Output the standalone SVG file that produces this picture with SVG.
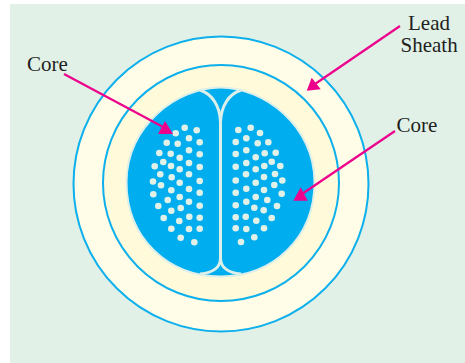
<svg xmlns="http://www.w3.org/2000/svg" width="465" height="363" viewBox="0 0 465 363">
<style>
.ring{stroke:#0db0ec;stroke-width:2}
.wall{fill:none;stroke:#dcefe9;stroke-width:3}
.dots circle{fill:#e1f1e7}
.lead{stroke:#ec008c;stroke-width:2.2;fill:none}
.head{fill:#ec008c}
text{font-family:"Liberation Serif","Times New Roman",serif;font-size:21px;fill:#231f20}
</style>
<rect width="465" height="363" fill="#fff"/>
<rect x="10" y="4" width="455" height="359" fill="#e1f1e7"/>
<g id="sheath-outer"><circle class="ring" cx="221" cy="184" r="147.500" fill="#fffde7"/></g>
<g id="sheath-inner"><circle class="ring" cx="221" cy="183" r="118" fill="#fffad9"/></g>
<g id="cable-core">
<path d="M220.500 87.500C264 87.500 314.500 126 314.500 182C314.500 238 273 276.500 220.500 276.500C168 276.500 126.500 238 126.500 182C126.500 126 177 87.500 220.500 87.500Z" fill="#00aeef" stroke="#dcefe9" stroke-width="2"/>
<path class="wall" d="M200 90C212 94 220 106 220.500 122V258C220.500 268 212 273 200 274"/>
<path class="wall" d="M241 90C229 94 221 106 220.500 122M220.500 258C220.500 268 229 273 241 274"/>
</g>
<g id="core-left-dots" class="dots">
<circle cx="175.700" cy="133.300" r="3.300"/><circle cx="184.700" cy="127.700" r="3.300"/><circle cx="196.700" cy="130.300" r="3.300"/><circle cx="166.700" cy="142.700" r="3.300"/><circle cx="177.700" cy="143.700" r="3.300"/><circle cx="189" cy="138.300" r="3.300"/><circle cx="199.700" cy="142.300" r="3.300"/><circle cx="159.300" cy="153" r="3.300"/><circle cx="170.700" cy="153.700" r="3.300"/><circle cx="189" cy="150.300" r="3.300"/><circle cx="199.700" cy="154.300" r="3.300"/><circle cx="179.700" cy="157.700" r="3.300"/><circle cx="163.300" cy="162" r="3.300"/><circle cx="171" cy="166" r="3.300"/><circle cx="189" cy="163" r="3.300"/><circle cx="154.700" cy="166.300" r="3.300"/><circle cx="179.700" cy="169.300" r="3.300"/><circle cx="199.700" cy="167" r="3.300"/><circle cx="160.300" cy="174.300" r="3.300"/><circle cx="171.700" cy="177.300" r="3.300"/><circle cx="189" cy="174.300" r="3.300"/><circle cx="153" cy="181.500" r="3.300"/><circle cx="179.700" cy="182.700" r="3.300"/><circle cx="199.700" cy="181" r="3.300"/><circle cx="161" cy="185.300" r="3.300"/><circle cx="171.300" cy="190.300" r="3.300"/><circle cx="189" cy="189" r="3.300"/><circle cx="199.700" cy="192.700" r="3.300"/><circle cx="153.300" cy="194.300" r="3.300"/><circle cx="179.700" cy="197" r="3.300"/><circle cx="167.700" cy="200" r="3.300"/><circle cx="189" cy="201.700" r="3.300"/><circle cx="199.700" cy="205.700" r="3.300"/><circle cx="158.300" cy="206" r="3.300"/><circle cx="180.700" cy="208" r="3.300"/><circle cx="171.300" cy="210.700" r="3.300"/><circle cx="163.700" cy="218" r="3.300"/><circle cx="189.300" cy="216.700" r="3.300"/><circle cx="199.700" cy="217.700" r="3.300"/><circle cx="179.300" cy="221" r="3.300"/><circle cx="171.300" cy="228.700" r="3.300"/><circle cx="189" cy="229" r="3.300"/><circle cx="199.700" cy="228.700" r="3.300"/><circle cx="180.700" cy="237.700" r="3.300"/><circle cx="194.300" cy="242.300" r="3.300"/>
</g>
<g id="core-right-dots" class="dots">
<circle cx="238.300" cy="130" r="3.300"/><circle cx="250.700" cy="127.700" r="3.300"/><circle cx="260" cy="133" r="3.300"/><circle cx="235.700" cy="142" r="3.300"/><circle cx="246.300" cy="138.300" r="3.300"/><circle cx="257.700" cy="143.300" r="3.300"/><circle cx="268.300" cy="142.300" r="3.300"/><circle cx="235.700" cy="154" r="3.300"/><circle cx="246.300" cy="150.300" r="3.300"/><circle cx="264.700" cy="153.300" r="3.300"/><circle cx="275.700" cy="152.700" r="3.300"/><circle cx="255.700" cy="157.300" r="3.300"/><circle cx="235.700" cy="166.700" r="3.300"/><circle cx="246.300" cy="163" r="3.300"/><circle cx="271.700" cy="161.700" r="3.300"/><circle cx="264.300" cy="166" r="3.300"/><circle cx="280.300" cy="166" r="3.300"/><circle cx="255.700" cy="169.300" r="3.300"/><circle cx="246" cy="174.300" r="3.300"/><circle cx="275" cy="174" r="3.300"/><circle cx="264" cy="177" r="3.300"/><circle cx="235.700" cy="180.500" r="3.300"/><circle cx="282.300" cy="180.500" r="3.300"/><circle cx="255.700" cy="182.700" r="3.300"/><circle cx="274.300" cy="185" r="3.300"/><circle cx="246.300" cy="188.700" r="3.300"/><circle cx="264" cy="190" r="3.300"/><circle cx="235.700" cy="192.700" r="3.300"/><circle cx="281.700" cy="193.700" r="3.300"/><circle cx="255.700" cy="197" r="3.300"/><circle cx="246.300" cy="201.700" r="3.300"/><circle cx="267.300" cy="200" r="3.300"/><circle cx="277" cy="206" r="3.300"/><circle cx="235.700" cy="205.300" r="3.300"/><circle cx="254.300" cy="207.700" r="3.300"/><circle cx="263.700" cy="210.300" r="3.300"/><circle cx="235.700" cy="217.300" r="3.300"/><circle cx="245.700" cy="216.700" r="3.300"/><circle cx="271.700" cy="218" r="3.300"/><circle cx="256.300" cy="220.700" r="3.300"/><circle cx="235.700" cy="228.300" r="3.300"/><circle cx="246.300" cy="229" r="3.300"/><circle cx="264" cy="228.300" r="3.300"/><circle cx="254.300" cy="237.300" r="3.300"/><circle cx="241" cy="242" r="3.300"/>
</g>
<g id="connectors">
<path class="lead" d="M64 74L165 128"/><polygon class="head" points="158,134 173,134 165,121"/>
<path class="lead" d="M400 26L315 84"/><polygon class="head" points="306.700,90.700 320.700,89.300 311.700,77.700"/>
<path class="lead" d="M395 131L302 194"/><polygon class="head" points="293.300,200.700 307.700,200.700 300.700,187.300"/>
</g>
<g id="label-core-left"><text x="27" y="71">Core</text></g>
<g id="label-lead-sheath"><text x="408" y="30">Lead</text><text x="400.500" y="52">Sheath</text></g>
<g id="label-core-right"><text x="396.500" y="132">Core</text></g>
</svg>
